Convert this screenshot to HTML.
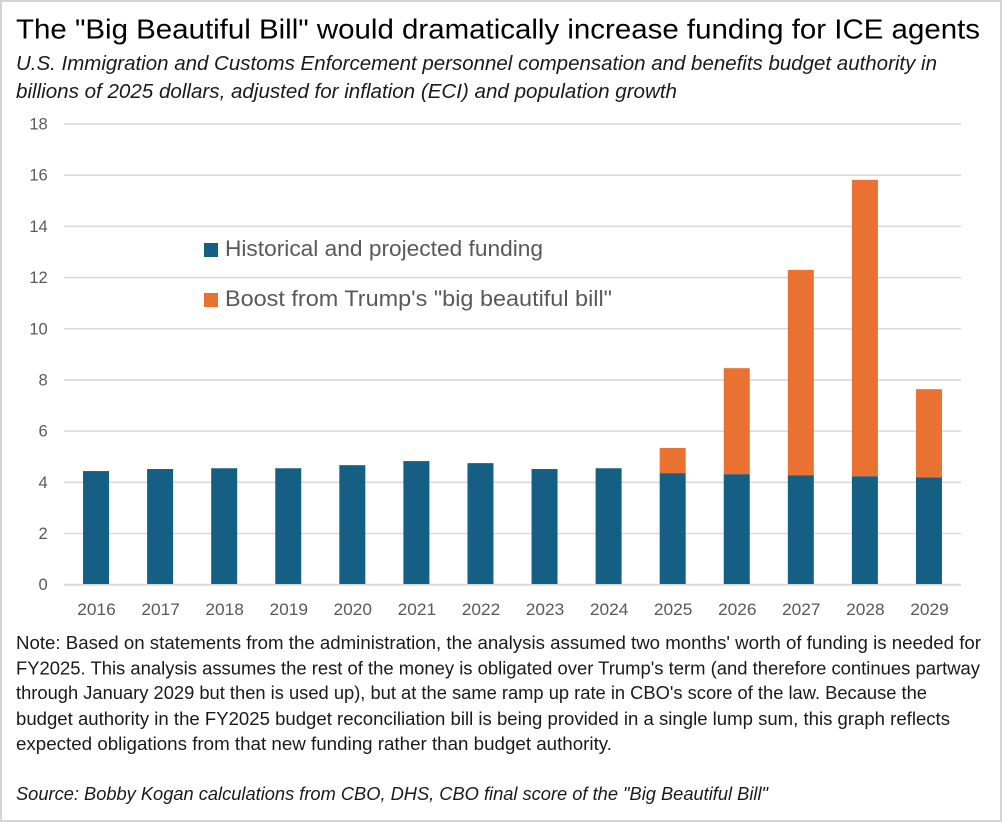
<!DOCTYPE html>
<html lang="en">
<head>
<meta charset="utf-8">
<title>ICE funding chart</title>
<style>
html,body{margin:0;padding:0;background:#fff;}
svg{display:block;font-family:"Liberation Sans",sans-serif;}
</style>
</head>
<body>
<svg id="chart" xmlns="http://www.w3.org/2000/svg" width="1002" height="822" viewBox="0 0 1002 822">
  <rect x="1" y="1" width="1000" height="820" fill="#fff" stroke="#d4d4d4" stroke-width="2"/>
  <text x="16" y="38.5" font-size="28" fill="#000" textLength="964" lengthAdjust="spacingAndGlyphs">The "Big Beautiful Bill" would dramatically increase funding for ICE agents</text>
  <g font-size="20" font-style="italic" fill="#1a1a1a">
    <text x="16" y="70" textLength="921" lengthAdjust="spacingAndGlyphs">U.S. Immigration and Customs Enforcement personnel compensation and benefits budget authority in</text>
    <text x="16" y="98" textLength="661" lengthAdjust="spacingAndGlyphs">billions of 2025 dollars, adjusted for inflation (ECI) and population growth</text>
  </g>
  <g id="grid"></g>
  <g id="yLabels"></g>
  <g id="bars"></g>
  <g id="xLabels"></g>
  <g font-size="22" fill="#595959">
    <g>
      <rect x="204" y="243" width="14" height="14" fill="#156082"/>
      <text x="225" y="256" textLength="318" lengthAdjust="spacingAndGlyphs">Historical and projected funding</text>
    </g>
    <g>
      <rect x="204" y="293" width="14" height="14" fill="#E97132"/>
      <text x="225" y="306" textLength="387" lengthAdjust="spacingAndGlyphs">Boost from Trump's "big beautiful bill"</text>
    </g>
  </g>
  <g font-size="18.5" fill="#1a1a1a">
    <text x="16" y="649" textLength="965" lengthAdjust="spacingAndGlyphs">Note: Based on statements from the administration, the analysis assumed two months' worth of funding is needed for</text>
    <text x="16" y="674.5" textLength="964" lengthAdjust="spacingAndGlyphs">FY2025. This analysis assumes the rest of the money is obligated over Trump's term (and therefore continues partway</text>
    <text x="16" y="699" textLength="911" lengthAdjust="spacingAndGlyphs">through January 2029 but then is used up), but at the same ramp up rate in CBO's score of the law. Because the</text>
    <text x="16" y="725" textLength="934" lengthAdjust="spacingAndGlyphs">budget authority in the FY2025 budget reconciliation bill is being provided in a single lump sum, this graph reflects</text>
    <text x="16" y="750" textLength="596" lengthAdjust="spacingAndGlyphs">expected obligations from that new funding rather than budget authority.</text>
    <text x="16" y="800" font-style="italic" textLength="752" lengthAdjust="spacingAndGlyphs">Source: Bobby Kogan calculations from CBO, DHS, CBO final score of the "Big Beautiful Bill"</text>
  </g>
</svg>
<script>
const categories = ["2016","2017","2018","2019","2020","2021","2022","2023","2024","2025","2026","2027","2028","2029"];
const baseValues = [4.44,4.52,4.55,4.55,4.67,4.83,4.75,4.52,4.55,4.36,4.32,4.28,4.24,4.20];
const boostValues = [0,0,0,0,0,0,0,0,0,0.98,4.14,8.02,11.58,3.44];
const yTicks = [0,2,4,6,8,10,12,14,16,18];

const NS = "http://www.w3.org/2000/svg";
const plotLeft = 64, plotRight = 961, plotBottom = 584.7, plotTop = 124, yMax = 18, barWidth = 26;
function yScale(v){ return plotBottom - (v / yMax) * (plotBottom - plotTop); }
function xScale(i){ return plotLeft + (i + 0.5) * (plotRight - plotLeft) / categories.length; }
function make(tag, attrs){
  const el = document.createElementNS(NS, tag);
  for (const k in attrs) el.setAttribute(k, attrs[k]);
  return el;
}
const grid = document.getElementById("grid");
const yLabels = document.getElementById("yLabels");
const bars = document.getElementById("bars");
const xLabels = document.getElementById("xLabels");

yTicks.forEach(function(t){
  const line = make("line", {x1: plotLeft, x2: plotRight, y1: yScale(t), y2: yScale(t), stroke: "#d9d9d9", "stroke-width": t === 0 ? 2 : 1.6});
  
  
  grid.appendChild(line);
  const label = make("text", {x: 47.7, y: yScale(t) + 5.5, "text-anchor": "end", "font-size": 16.5, fill: "#595959"});
  
  
  label.textContent = t;
  yLabels.appendChild(label);
});

categories.forEach(function(c, i){
  const x = xScale(i) - barWidth / 2;
  const baseTop = yScale(baseValues[i]);
  const base = make("rect", {x: x, y: baseTop, width: barWidth, height: yScale(0) - baseTop - 0.7, fill: "#156082"});
  
  
  bars.appendChild(base);
  if (boostValues[i] > 0) {
    const boostTop = yScale(baseValues[i] + boostValues[i]);
    const boost = make("rect", {x: x, y: boostTop, width: barWidth, height: baseTop - boostTop, fill: "#E97132"});
    
    
    bars.appendChild(boost);
  }
  const label = make("text", {x: xScale(i) + 0.5, y: 615, "text-anchor": "middle", "font-size": 16.5, fill: "#595959", textLength: 38.5, lengthAdjust: "spacingAndGlyphs"});
  
  
  label.textContent = c;
  xLabels.appendChild(label);
});
</script>
</body>
</html>
